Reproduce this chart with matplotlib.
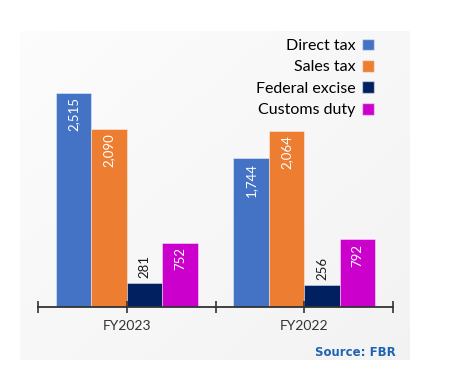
import numpy as np
import matplotlib.pyplot as plt
from matplotlib.patches import Patch

# FBR tax collection (Rs bn)
years = ['FY2023', 'FY2022']
series = ['Direct tax', 'Sales tax', 'Federal excise', 'Customs duty']
direct_tax = [2515, 1744]
sales_tax = [2090, 2064]
federal_excise = [281, 256]
customs_duty = [752, 792]
colors = ['#4472c4', '#ed7d31', '#002060', '#cc00cc']

values = [direct_tax, sales_tax, federal_excise, customs_duty]

fig = plt.figure(figsize=(4.73, 3.76), dpi=100)
fig.patch.set_facecolor('white')

# light gray panel behind the chart, slight diagonal gradient
bg = fig.add_axes([20 / 473, 16 / 376, 389 / 473, 329 / 376])
gx, gy = np.meshgrid(np.linspace(0, 1, 200), np.linspace(0, 1, 200))
grad = 0.5 * gx + 0.5 * gy
bg.imshow(grad, cmap='Greys', vmin=-0.3, vmax=12.0, aspect='auto', extent=[0, 1, 0, 1])
bg.axis('off')

ax = fig.add_axes([38 / 473, 69 / 376, 355 / 473, 255.8 / 376])
ax.patch.set_visible(False)

x = np.arange(len(years))
width = 0.2
for i, (name, vals, c) in enumerate(zip(series, values, colors)):
    pos = x + (i - 1.5) * width
    ax.bar(pos, vals, width, color=c, label=name,
           edgecolor=(1, 1, 1, 0.5), linewidth=0.6)
    for p, v in zip(pos, vals):
        if v < 400:
            ax.text(p, v + 60, f'{v:,}', rotation=90, ha='center', va='bottom',
                    fontsize=9.5, color='#1a1a1a', family='Lato')
        else:
            ax.text(p, v - 50, f'{v:,}', rotation=90, ha='center', va='top',
                    fontsize=9.5, color='white', family='Lato')

ax.set_xlim(-0.5, 1.5)
ax.set_ylim(0, 3000)
ax.set_xticks(x)
ax.set_xticklabels(years, fontsize=10, color='#333333', family='Lato')
ax.set_xticks([-0.5, 0.5, 1.5], minor=True)
ax.tick_params(axis='x', which='both', direction='inout', length=9,
               width=1.2, color='#333333', pad=5)
ax.set_yticks([])
for s in ['top', 'right', 'left']:
    ax.spines[s].set_visible(False)
ax.spines['bottom'].set_color('#333333')
ax.spines['bottom'].set_linewidth(1.3)

handles = [Patch(facecolor=c, edgecolor=(1, 1, 1, 0.5)) for c in colors]
fig.legend(handles, series, loc='upper right', bbox_to_anchor=(374 / 473, 1 - 38.5 / 376),
           frameon=False, markerfirst=False, prop={'family': 'Lato', 'size': 11.5},
           handlelength=0.75, handleheight=0.75, handletextpad=0.4, labelspacing=0.44,
           borderaxespad=0, borderpad=0)

fig.text(396 / 473, 1 - 352 / 376, 'Source: FBR', ha='right', va='center',
         fontsize=8.5, color='#2063b0', fontweight='bold')

fig.savefig('out.png', dpi=100)
